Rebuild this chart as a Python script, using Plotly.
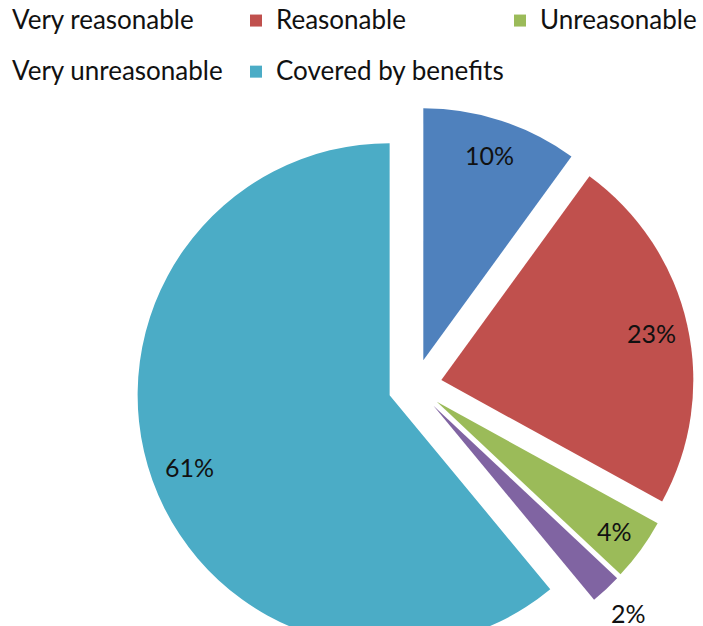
import math
import plotly.graph_objects as go

# Survey: how reasonable are the costs?
categories = ["Very reasonable", "Reasonable", "Unreasonable",
              "Very unreasonable", "Covered by benefits"]
shares = [10, 23, 4, 2, 61]
colors = ["#4F81BD", "#C0504D", "#9BBB59", "#8064A2", "#4BACC6"]
# distance of each data label from its slice tip, as a fraction of the radius
label_radius = [0.855, 0.855, 0.87, 1.13, 0.845]

FONT = "Lato"
TEXT_SIZE = 25
LEGEND_TEXT_SIZE = 26

W, H = 820, 700
TOP = 100
PLOT_H = H - TOP
PULL = 0.107
CX, CY, R = 415, 386, 252          # pie centre and radius in pixels
half = R * (1 + PULL)

dom_x = [(CX - half) / W, (CX + half) / W]
dom_y = [1 - (CY + half - TOP) / PLOT_H, 1 - (CY - half - TOP) / PLOT_H]

# the legend font size sets the row pitch; the entry text itself is drawn smaller
legend_names = [
    f"<span style='font-size:{LEGEND_TEXT_SIZE}px;baseline-shift:6px'>{c}</span>"
    for c in categories
]

fig = go.Figure(go.Pie(
    labels=legend_names,
    values=shares,
    sort=False,
    direction="clockwise",
    rotation=0,
    pull=[PULL] * len(shares),
    marker=dict(colors=colors, line=dict(width=0)),
    textinfo="none",
    hoverinfo="skip",
    domain=dict(x=dom_x, y=dom_y),
))

# data labels placed along each slice's mid-angle
total = sum(shares)
acc = 0
for v, k in zip(shares, label_radius):
    mid = (acc + v / 2) / total * 2 * math.pi
    acc += v
    dx, dy = math.sin(mid), -math.cos(mid)
    px = CX + (PULL + k) * R * dx
    py = CY + (PULL + k) * R * dy
    fig.add_annotation(
        x=px / W, y=1 - (py - TOP) / PLOT_H, xref="paper", yref="paper",
        text=f"{v}%", showarrow=False,
        font=dict(family=FONT, size=TEXT_SIZE, color="#111111"),
        xanchor="center", yanchor="middle",
    )

LEGEND_TOP = -10
fig.update_layout(
    width=W, height=H,
    margin=dict(l=0, r=0, t=TOP, b=0, autoexpand=False),
    paper_bgcolor="white", plot_bgcolor="white",
    showlegend=True,
    legend=dict(
        orientation="h",
        x=-28 / W, xanchor="left",
        y=1 + (TOP - LEGEND_TOP) / PLOT_H, yanchor="top",
        entrywidth=219, entrywidthmode="pixels",
        font=dict(family=FONT, size=37, color="#111111"),
        bgcolor="rgba(0,0,0,0)",
    ),
)

fig.write_html(
    "out.html",
    post_script="document.documentElement.style.overflow='hidden';"
                "document.body.style.overflow='hidden';",
)
